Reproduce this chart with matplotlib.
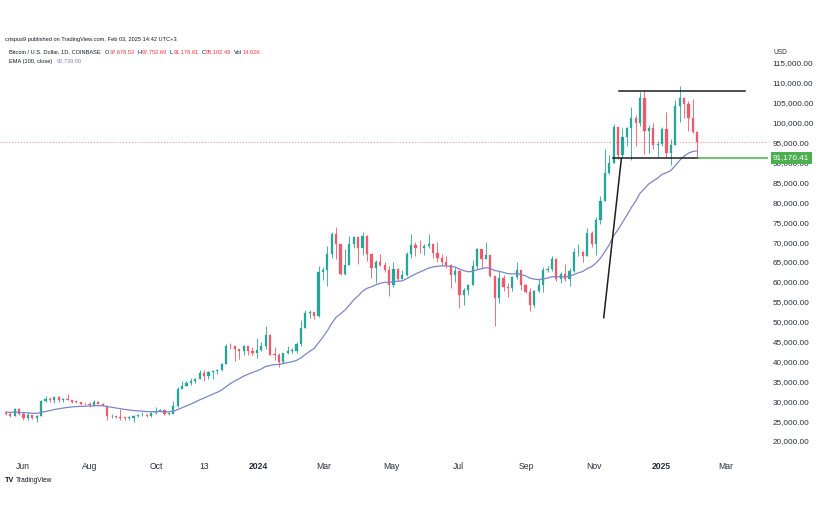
import matplotlib
matplotlib.use("Agg")
import matplotlib.pyplot as plt
import matplotlib.dates as mdates
import matplotlib.transforms as mtransforms
from datetime import datetime, timedelta

plt.rcParams['font.family'] = ['Liberation Sans', 'DejaVu Sans']

# ---------------- data (thousand USD, 4-day candles) ----------------
first_bar = datetime(2023, 5, 17)
bar_days = 4
first_open_k = 27.0
close_k = [26.9, 26.3, 28.1, 26.8, 25.8, 26.5, 25.9, 26.4, 30.0, 30.5,
           30.4, 31.1, 30.3, 30.6, 30.3, 29.9, 29.8, 29.3, 29.2, 29.1,
           29.8, 29.4, 28.7, 26.2, 26.2, 26.1, 25.9, 25.8, 25.9, 26.2,
           26.5, 26.6, 26.3, 27.0, 27.5, 27.9, 26.9, 26.9, 28.7, 33.1,
           33.9, 34.6, 35.0, 35.6, 37.0, 36.3, 37.4, 37.7, 37.8, 39.4,
           44.0, 43.8, 43.0, 42.6, 43.9, 42.5, 42.1, 42.8, 43.9, 46.6,
           41.7, 41.6, 39.9, 42.1, 42.6, 42.6, 44.3, 48.3, 52.1, 52.3,
           51.5, 62.4, 62.9, 67.0, 72.0, 69.5, 62.0, 64.2, 69.4, 71.3,
           68.5, 71.6, 67.1, 63.4, 64.9, 64.3, 63.1, 59.1, 63.2, 60.8,
           61.6, 67.0, 69.2, 68.5, 68.4, 69.0, 69.4, 67.3, 66.0, 65.0,
           64.3, 61.6, 62.7, 56.7, 57.9, 59.2, 64.1, 68.2, 65.8, 66.8,
           61.4, 56.0, 60.9, 58.7, 58.4, 61.1, 63.0, 59.1, 57.5, 54.1,
           57.6, 59.1, 62.9, 63.3, 65.8, 60.8, 62.0, 60.6, 62.8, 67.4,
           67.4, 66.6, 72.3, 69.4, 75.6, 80.4, 87.3, 89.9, 98.9, 91.9,
           96.4, 98.7, 101.2, 100.0, 106.1, 97.8, 98.7, 94.3, 94.6, 98.3,
           92.5, 94.5, 104.1, 106.1, 104.7, 101.3, 97.7, 95.1]
high_k = [27.5, 27.2, 28.2, 28.4, 27.4, 27.3, 26.6, 26.5, 30.2, 31.4,
          31.0, 31.4, 31.3, 30.8, 31.8, 30.4, 30.1, 29.6, 29.5, 29.9,
          30.2, 30.1, 29.6, 28.7, 26.8, 26.3, 28.1, 26.0, 26.4, 26.5,
          26.8, 27.4, 26.7, 27.3, 28.6, 28.1, 28.0, 27.0, 30.0, 33.5,
          35.2, 35.0, 35.9, 35.9, 37.9, 37.9, 37.6, 37.9, 38.0, 39.5,
          44.4, 44.7, 43.5, 43.1, 44.2, 43.9, 43.7, 45.9, 44.8, 48.9,
          47.0, 43.6, 42.2, 42.2, 43.8, 43.4, 44.9, 50.3, 52.8, 53.0,
          52.5, 63.9, 63.7, 69.1, 72.5, 73.8, 69.6, 68.2, 71.6, 71.4,
          71.3, 72.6, 71.8, 67.1, 65.4, 67.0, 65.0, 64.0, 65.0, 63.4,
          63.0, 67.6, 71.9, 70.0, 70.5, 69.6, 71.9, 69.6, 70.0, 67.0,
          66.4, 64.5, 63.8, 63.0, 58.4, 59.5, 65.4, 68.4, 68.0, 70.0,
          66.8, 61.5, 62.7, 61.8, 59.8, 61.4, 65.0, 63.0, 59.5, 58.5,
          58.0, 60.6, 63.8, 64.0, 66.5, 66.0, 62.4, 64.4, 63.4, 68.4,
          69.5, 67.7, 73.6, 72.9, 76.4, 81.5, 93.4, 91.8, 99.6, 99.0,
          98.7, 99.0, 104.0, 101.9, 107.8, 108.3, 99.5, 99.9, 95.5, 98.9,
          102.7, 95.8, 105.8, 109.1, 106.3, 105.4, 106.0, 97.8]
low_k = [26.6, 26.0, 26.2, 26.6, 25.4, 25.4, 25.5, 24.8, 26.3, 29.8,
         29.9, 29.6, 29.7, 29.9, 30.2, 29.5, 29.6, 29.0, 29.0, 28.6,
         28.7, 29.3, 28.7, 25.4, 25.8, 25.8, 25.3, 25.4, 25.4, 24.9,
         26.1, 26.3, 26.0, 26.1, 26.9, 27.2, 26.6, 26.6, 26.9, 28.6,
         33.0, 33.9, 34.1, 34.5, 35.6, 35.1, 35.6, 35.7, 36.9, 37.5,
         39.4, 43.0, 40.2, 40.5, 41.7, 41.6, 41.5, 40.8, 42.6, 43.2,
         41.7, 40.3, 38.5, 39.5, 41.8, 42.2, 42.2, 44.0, 48.3, 51.0,
         50.6, 51.2, 60.5, 59.0, 66.0, 65.7, 61.6, 61.6, 64.2, 68.6,
         64.5, 66.8, 65.3, 61.0, 59.6, 63.9, 62.5, 56.5, 58.6, 60.2,
         60.6, 61.4, 66.1, 66.5, 67.2, 66.7, 68.4, 66.1, 65.0, 64.1,
         63.4, 58.4, 60.0, 53.5, 54.3, 56.6, 59.2, 63.3, 63.5, 65.8,
         61.1, 49.0, 54.6, 57.6, 56.1, 57.8, 60.8, 57.9, 57.2, 52.6,
         53.8, 57.5, 57.5, 62.4, 62.7, 60.2, 59.8, 60.3, 58.9, 62.4,
         66.6, 65.1, 66.5, 68.8, 66.8, 74.5, 80.2, 87.1, 89.9, 90.8,
         91.2, 94.2, 90.5, 94.2, 99.2, 92.2, 92.5, 93.4, 91.5, 94.2,
         91.2, 89.3, 94.4, 100.2, 101.2, 97.8, 97.4, 91.2]
ema_seed_k = 27.3          # EMA(100) value at the first bar
ema_length = 100           # EMA length in daily bars
days_per_candle = 4

last_price = 95102.48
support = 91170.41
resistance = 108000
flagpole = [("2024-11-10", 51000), ("2024-11-26", 90900)]
resistance_span = ("2024-11-24", "2025-03-18")
support_black_span = ("2024-11-18", "2025-02-04")

xtick_dates = ["2023-06-01", "2023-08-01", "2023-10-01", "2023-11-13", "2024-01-01",
               "2024-03-01", "2024-05-01", "2024-07-01", "2024-09-01", "2024-11-01",
               "2025-01-01", "2025-03-01"]
xtick_labels = ["Jun", "Aug", "Oct", "13", "2024", "Mar", "May", "Jul", "Sep", "Nov",
                "2025", "Mar"]
ytick_values = list(range(20000, 115001, 5000))

# ---------------- derived ----------------
closes = [c * 1000 for c in close_k]
highs = [h * 1000 for h in high_k]
lows = [l * 1000 for l in low_k]
opens = [first_open_k * 1000] + closes[:-1]
dates = [first_bar + timedelta(days=bar_days * i) for i in range(len(closes))]
xnum = mdates.date2num(dates)

a = 1 - (1 - 2 / (ema_length + 1)) ** days_per_candle
ema = []
e = ema_seed_k * 1000
for c in closes:
    e = e + a * (c - e)
    ema.append(e)

# ---------------- figure ----------------
W, H = 822, 522
fig = plt.figure(figsize=(W / 100, H / 100), dpi=100)
ax_l, ax_r, ax_t, ax_b = 0, 768, 30, 452
ax = fig.add_axes([ax_l / W, 1 - ax_b / H, (ax_r - ax_l) / W, (ax_b - ax_t) / H])

UP = '#26a69a'
DOWN = '#ef5a6a'
EMA_C = '#7b86c8'
DARK = '#131722'

for x, o, h, l, c in zip(xnum, opens, highs, lows, closes):
    col = UP if c >= o else DOWN
    ax.vlines(x, l, h, color=col, lw=0.6, zorder=2)
    bot = min(o, c)
    ht = max(abs(c - o), 150)
    ax.bar(x, ht, bottom=bot, width=2.0, color=col, edgecolor=col, lw=0.2, zorder=3)

ax.plot(xnum, ema, color=EMA_C, lw=0.9, zorder=4)

ax.axhline(last_price, color='#e98a95', lw=0.6, ls=(0, (1.5, 2)), zorder=1)

d = mdates.datestr2num
ax.plot([d(resistance_span[0]), d(resistance_span[1])], [resistance, resistance],
        color='#1e1e1e', lw=1.1, zorder=5)
ax.plot([d(support_black_span[0]), d(support_black_span[1])], [support, support],
        color='#1e1e1e', lw=1.1, zorder=5)
ax.plot([d(support_black_span[1]), d("2025-06-01")], [support, support],
        color='#4caf50', lw=1.1, zorder=5)
ax.plot([d(flagpole[0][0]), d(flagpole[1][0])], [flagpole[0][1], flagpole[1][1]],
        color='#1e1e1e', lw=1.1, zorder=5)

# limits
x_left = d("2024-01-01") - 258 / 1.101
x_right = d("2024-01-01") + (ax_r - 258) / 1.101
ax.set_xlim(x_left, x_right)
ppx = 0.003979
ax.set_ylim(115000 - (ax_b - 63) / ppx, 115000 + (63 - ax_t) / ppx)

for s in ax.spines.values():
    s.set_visible(False)
ax.yaxis.tick_right()
ax.set_yticks(ytick_values)
ax.set_yticklabels([f"{v:,.2f}" for v in ytick_values])
ax.tick_params(axis='y', length=0, pad=3.5, labelsize=5.9, labelcolor='#2a2e39')
ax.set_xticks([d(t) for t in xtick_dates])
ax.set_xticklabels(xtick_labels)
ax.tick_params(axis='x', length=0, pad=7, labelsize=6.2, labelcolor='#2a2e39')
for lab in ax.get_xticklabels():
    if lab.get_text() in ("2024", "2025"):
        lab.set_fontweight('bold')

# price label box
trans = mtransforms.blended_transform_factory(ax.transAxes, ax.transData)
ax.text(1 + 5 / (ax_r - ax_l), support, "91,170.41", transform=trans, ha='left', va='center',
        fontsize=5.9, color='white', zorder=10, clip_on=False,
        bbox=dict(boxstyle='square,pad=0.3', fc='#4caf50', ec='none'))

fig.text(773 / W, 1 - 52 / H, "USD", fontsize=4.8, color='#2a2e39', va='center')

# header
renderer = fig.canvas.get_renderer()


def chain(x_px, y_px, pieces, size):
    x = x_px
    for s, c, gap in pieces:
        t = fig.text(x / W, 1 - y_px / H, s, color=c, fontsize=size, va='center', ha='left')
        bb = t.get_window_extent(renderer)
        x += bb.width + gap


RED = '#f23645'
chain(5, 40, [("crispus9 published on TradingView.com, Feb 03, 2025 14:42 UTC+3", DARK, 0)], 4.1)
chain(9, 52, [("Bitcoin / U.S. Dollar, 1D, COINBASE", DARK, 4),
              ("O", DARK, 0.3), ("97,678.53", RED, 3),
              ("H", DARK, 0.3), ("97,752.69", RED, 3),
              ("L", DARK, 0.3), ("91,178.81", RED, 3),
              ("C", DARK, 0.3), ("95,102.48", RED, 3),
              ("Vol", DARK, 0.3), ("14.62K", RED, 0)], 4.1)
chain(9, 61, [("EMA (100, close)", DARK, 4), ("92,739.00", EMA_C, 0)], 4.1)

# logo
fig.text(5 / W, 1 - 481 / H, "TV", fontsize=5.2, fontweight='heavy', color=DARK, va='center')
fig.text(16 / W, 1 - 481 / H, "TradingView", fontsize=4.8, color=DARK, va='center')

fig.savefig("out.png", dpi=100, facecolor='white')
